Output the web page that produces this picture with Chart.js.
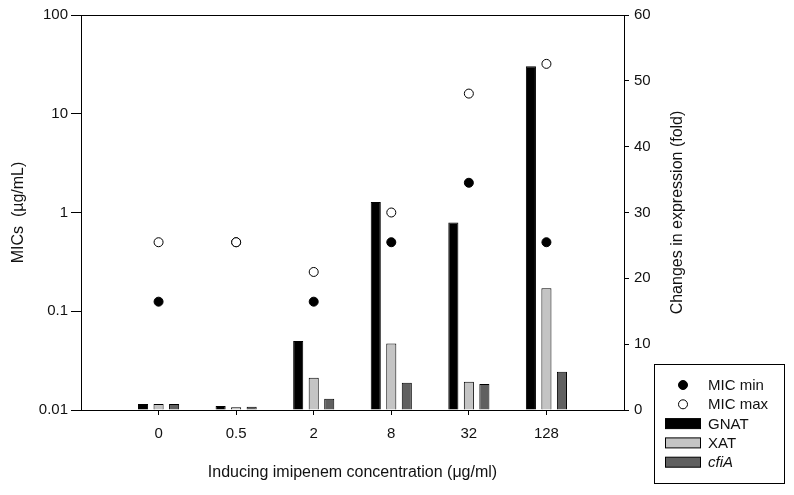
<!DOCTYPE html>
<html>
<head>
<meta charset="utf-8">
<script src="https://cdn.jsdelivr.net/npm/chart.js@4/dist/chart.umd.min.js"></script>
<style>
  html, body { margin: 0; padding: 0; background: #fff; }
</style>
</head>
<body>
<canvas id="graphique" width="794" height="495"></canvas>
<script>
// Concentrations d'imipénème (axe x)
const categories = ["0", "0.5", "2", "8", "32", "128"];
// CMI, axe gauche logarithmique
const micMin = [0.125, 0.5, 0.125, 0.5, 2, 0.5];
const micMax = [0.5, 0.5, 0.25, 1, 16, 32];
// Expression (fold), axe droit
const gnat = [0.9, 0.6, 10.5, 31.6, 28.5, 52.2];
const xat = [0.9, 0.4, 4.9, 10.1, 4.3, 18.5];
const cfiA = [0.9, 0.5, 1.7, 4.15, 3.95, 5.8];
// Graduations
const logTicks = [0.01, 0.1, 1, 10, 100];
const rightTicks = [0, 10, 20, 30, 40, 50, 60];

const police = "'Liberation Sans', Arial, sans-serif";
const noir = "#111";

// une case vide de chaque côté pour laisser la marge des groupes
const labels = ["", ...categories, ""];
const pad = arr => [null, ...arr, null];

const legendeEtTitre = {
  id: "legendeEtTitre",
  afterDraw(chart) {
    const { ctx, chartArea } = chart;
    // titre de l'axe droit, lu de bas en haut
    ctx.save();
    ctx.font = "16px " + police;
    ctx.fillStyle = noir;
    ctx.textAlign = "center";
    ctx.textBaseline = "middle";
    ctx.translate(chartArea.right + 54, (chartArea.top + chartArea.bottom) / 2);
    ctx.rotate(-Math.PI / 2);
    ctx.fillText("Changes in expression (fold)", 0, 0);
    ctx.restore();

    // légende encadrée
    const x0 = chartArea.right + 30;
    const y0 = chartArea.bottom - 46;
    ctx.save();
    ctx.strokeStyle = "#000";
    ctx.lineWidth = 1;
    ctx.strokeRect(x0 + 0.5, y0 + 0.5, 130, 119);
    const ordre = ["MIC min", "MIC max", "GNAT", "XAT", "cfiA"];
    ordre.forEach((nom, i) => {
      const ds = chart.data.datasets.find(d => d.label === nom);
      const y = y0 + 21 + i * 19.3;
      if (ds.type === "line") {
        ctx.beginPath();
        ctx.arc(x0 + 29, y, 4.5, 0, Math.PI * 2);
        ctx.fillStyle = ds.pointBackgroundColor;
        ctx.fill();
        ctx.strokeStyle = ds.pointBorderColor;
        ctx.stroke();
      } else {
        ctx.fillStyle = ds.backgroundColor;
        ctx.fillRect(x0 + 11.5, y - 5, 35, 10);
        ctx.strokeStyle = ds.borderColor;
        ctx.strokeRect(x0 + 11.5, y - 5, 35, 10);
      }
      ctx.fillStyle = noir;
      ctx.textAlign = "left";
      ctx.textBaseline = "middle";
      ctx.font = (nom === "cfiA" ? "italic " : "") + "15px " + police;
      ctx.fillText(nom, x0 + 54, y + 1);
    });
    ctx.restore();
  }
};

const data = {
  labels: labels,
  datasets: [
    {
      type: "line", label: "MIC max", data: pad(micMax),
      xAxisID: "x", yAxisID: "y", showLine: false,
      pointRadius: 4.5, pointBackgroundColor: "#fff",
      pointBorderColor: "#000", pointBorderWidth: 1
    },
    {
      type: "line", label: "MIC min", data: pad(micMin),
      xAxisID: "x", yAxisID: "y", showLine: false,
      pointRadius: 4.5, pointBackgroundColor: "#000",
      pointBorderColor: "#000", pointBorderWidth: 1
    },
    {
      type: "bar", label: "GNAT", data: pad(gnat), xAxisID: "x", yAxisID: "yR",
      backgroundColor: "#000", borderColor: "#000", borderWidth: 1
    },
    {
      type: "bar", label: "XAT", data: pad(xat), xAxisID: "x", yAxisID: "yR",
      backgroundColor: "#c4c4c4", borderColor: "#000", borderWidth: 1
    },
    {
      type: "bar", label: "cfiA", data: pad(cfiA), xAxisID: "x", yAxisID: "yR",
      backgroundColor: "#606060", borderColor: "#000", borderWidth: 1
    }
  ]
};

const config = {
  type: "bar",
  data: data,
  options: {
    responsive: false,
    animation: false,
    layout: { padding: 0 },
    datasets: { bar: { categoryPercentage: 0.6, barPercentage: 0.65 } },
    plugins: { legend: { display: false }, tooltip: { enabled: false } },
    scales: {
      x: {
        type: "category",
        position: "bottom",
        offset: false,
        grid: {
          offset: false,
          drawOnChartArea: false,
          tickLength: 5,
          color: "#000",
          tickColor: ctx => (ctx.tick && ctx.tick.label === "") ? "rgba(0,0,0,0)" : "#000"
        },
        border: { display: true, color: "#000", width: 1 },
        ticks: { font: { family: police, size: 15 }, color: noir, padding: 10, maxRotation: 0, autoSkip: false },
        title: {
          display: true,
          text: "Inducing imipenem concentration (μg/ml)",
          font: { family: police, size: 16 }, color: noir,
          padding: { top: 0, bottom: 13 }
        },
        afterFit: s => { s.height = 85; }
      },
      xTop: {
        type: "category",
        position: "top",
        offset: false,
        grid: { display: false },
        ticks: { display: false },
        border: { display: true, color: "#000", width: 1 },
        afterFit: s => { s.height = 15; }
      },
      y: {
        type: "logarithmic",
        position: "left",
        min: 0.01,
        max: 100,
        afterBuildTicks: s => { s.ticks = logTicks.map(v => ({ value: v })); },
        ticks: { font: { family: police, size: 15 }, color: noir, padding: 3, callback: v => String(v) },
        grid: { drawOnChartArea: false, tickLength: 10, color: "#000" },
        border: { display: true, color: "#000", width: 1 },
        title: {
          display: true,
          text: "MICs  (µg/mL)",
          font: { family: police, size: 16 }, color: noir,
          padding: { top: 9, bottom: 0 }
        },
        afterFit: s => { s.width = 81; }
      },
      yR: {
        type: "linear",
        position: "right",
        min: 0,
        max: 60,
        afterBuildTicks: s => { s.ticks = rightTicks.map(v => ({ value: v })); },
        ticks: { font: { family: police, size: 15 }, color: noir, padding: 5 },
        grid: { drawOnChartArea: false, tickLength: 5, color: "#000" },
        border: { display: true, color: "#000", width: 1 },
        afterFit: s => { s.width = 170; }
      }
    }
  },
  plugins: [legendeEtTitre]
};

const graphique = new Chart(document.querySelector("#graphique"), config);
</script>
</body>
</html>
